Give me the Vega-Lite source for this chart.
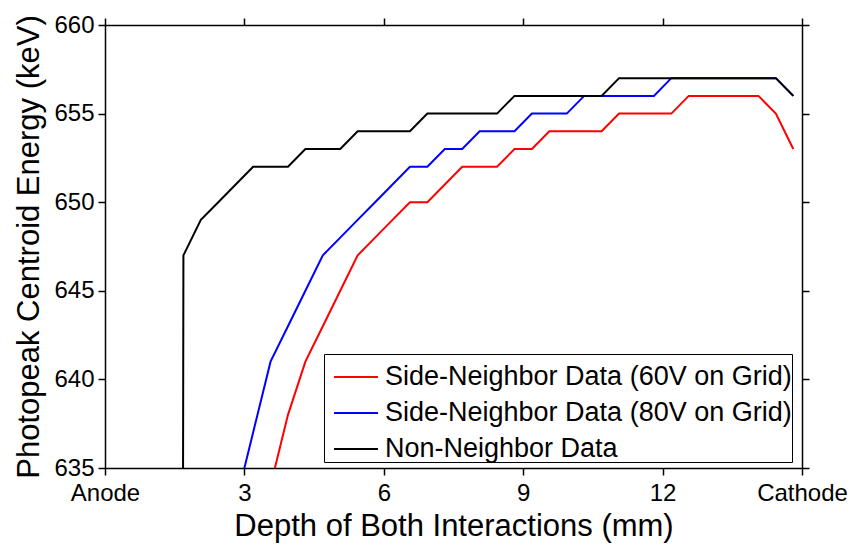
{
  "$schema": "https://vega.github.io/schema/vega-lite/v6.json",
  "width": 697,
  "height": 443,
  "autosize": {"type": "none"},
  "padding": {"left": 105, "top": 25, "right": 56, "bottom": 78},
  "background": "white",
  "datasets": {
    "pts": [
      {"s": "Side-Neighbor Data (60V on Grid)", "x": 3.5625, "y": 634},
      {"s": "Side-Neighbor Data (60V on Grid)", "x": 3.9375, "y": 638},
      {"s": "Side-Neighbor Data (60V on Grid)", "x": 4.3125, "y": 641},
      {"s": "Side-Neighbor Data (60V on Grid)", "x": 4.6875, "y": 643},
      {"s": "Side-Neighbor Data (60V on Grid)", "x": 5.0625, "y": 645},
      {"s": "Side-Neighbor Data (60V on Grid)", "x": 5.4375, "y": 647},
      {"s": "Side-Neighbor Data (60V on Grid)", "x": 5.8125, "y": 648},
      {"s": "Side-Neighbor Data (60V on Grid)", "x": 6.1875, "y": 649},
      {"s": "Side-Neighbor Data (60V on Grid)", "x": 6.5625, "y": 650},
      {"s": "Side-Neighbor Data (60V on Grid)", "x": 6.9375, "y": 650},
      {"s": "Side-Neighbor Data (60V on Grid)", "x": 7.3125, "y": 651},
      {"s": "Side-Neighbor Data (60V on Grid)", "x": 7.6875, "y": 652},
      {"s": "Side-Neighbor Data (60V on Grid)", "x": 8.0625, "y": 652},
      {"s": "Side-Neighbor Data (60V on Grid)", "x": 8.4375, "y": 652},
      {"s": "Side-Neighbor Data (60V on Grid)", "x": 8.8125, "y": 653},
      {"s": "Side-Neighbor Data (60V on Grid)", "x": 9.1875, "y": 653},
      {"s": "Side-Neighbor Data (60V on Grid)", "x": 9.5625, "y": 654},
      {"s": "Side-Neighbor Data (60V on Grid)", "x": 9.9375, "y": 654},
      {"s": "Side-Neighbor Data (60V on Grid)", "x": 10.3125, "y": 654},
      {"s": "Side-Neighbor Data (60V on Grid)", "x": 10.6875, "y": 654},
      {"s": "Side-Neighbor Data (60V on Grid)", "x": 11.0625, "y": 655},
      {"s": "Side-Neighbor Data (60V on Grid)", "x": 11.4375, "y": 655},
      {"s": "Side-Neighbor Data (60V on Grid)", "x": 11.8125, "y": 655},
      {"s": "Side-Neighbor Data (60V on Grid)", "x": 12.1875, "y": 655},
      {"s": "Side-Neighbor Data (60V on Grid)", "x": 12.5625, "y": 656},
      {"s": "Side-Neighbor Data (60V on Grid)", "x": 12.9375, "y": 656},
      {"s": "Side-Neighbor Data (60V on Grid)", "x": 13.3125, "y": 656},
      {"s": "Side-Neighbor Data (60V on Grid)", "x": 13.6875, "y": 656},
      {"s": "Side-Neighbor Data (60V on Grid)", "x": 14.0625, "y": 656},
      {"s": "Side-Neighbor Data (60V on Grid)", "x": 14.4375, "y": 655},
      {"s": "Side-Neighbor Data (60V on Grid)", "x": 14.8125, "y": 653},
      {"s": "Side-Neighbor Data (80V on Grid)", "x": 2.8125, "y": 633},
      {"s": "Side-Neighbor Data (80V on Grid)", "x": 3.1875, "y": 637},
      {"s": "Side-Neighbor Data (80V on Grid)", "x": 3.5625, "y": 641},
      {"s": "Side-Neighbor Data (80V on Grid)", "x": 3.9375, "y": 643},
      {"s": "Side-Neighbor Data (80V on Grid)", "x": 4.3125, "y": 645},
      {"s": "Side-Neighbor Data (80V on Grid)", "x": 4.6875, "y": 647},
      {"s": "Side-Neighbor Data (80V on Grid)", "x": 5.0625, "y": 648},
      {"s": "Side-Neighbor Data (80V on Grid)", "x": 5.4375, "y": 649},
      {"s": "Side-Neighbor Data (80V on Grid)", "x": 5.8125, "y": 650},
      {"s": "Side-Neighbor Data (80V on Grid)", "x": 6.1875, "y": 651},
      {"s": "Side-Neighbor Data (80V on Grid)", "x": 6.5625, "y": 652},
      {"s": "Side-Neighbor Data (80V on Grid)", "x": 6.9375, "y": 652},
      {"s": "Side-Neighbor Data (80V on Grid)", "x": 7.3125, "y": 653},
      {"s": "Side-Neighbor Data (80V on Grid)", "x": 7.6875, "y": 653},
      {"s": "Side-Neighbor Data (80V on Grid)", "x": 8.0625, "y": 654},
      {"s": "Side-Neighbor Data (80V on Grid)", "x": 8.4375, "y": 654},
      {"s": "Side-Neighbor Data (80V on Grid)", "x": 8.8125, "y": 654},
      {"s": "Side-Neighbor Data (80V on Grid)", "x": 9.1875, "y": 655},
      {"s": "Side-Neighbor Data (80V on Grid)", "x": 9.5625, "y": 655},
      {"s": "Side-Neighbor Data (80V on Grid)", "x": 9.9375, "y": 655},
      {"s": "Side-Neighbor Data (80V on Grid)", "x": 10.3125, "y": 656},
      {"s": "Side-Neighbor Data (80V on Grid)", "x": 10.6875, "y": 656},
      {"s": "Side-Neighbor Data (80V on Grid)", "x": 11.0625, "y": 656},
      {"s": "Side-Neighbor Data (80V on Grid)", "x": 11.4375, "y": 656},
      {"s": "Side-Neighbor Data (80V on Grid)", "x": 11.8125, "y": 656},
      {"s": "Side-Neighbor Data (80V on Grid)", "x": 12.1875, "y": 657},
      {"s": "Side-Neighbor Data (80V on Grid)", "x": 12.5625, "y": 657},
      {"s": "Side-Neighbor Data (80V on Grid)", "x": 12.9375, "y": 657},
      {"s": "Side-Neighbor Data (80V on Grid)", "x": 13.3125, "y": 657},
      {"s": "Side-Neighbor Data (80V on Grid)", "x": 13.6875, "y": 657},
      {"s": "Side-Neighbor Data (80V on Grid)", "x": 14.0625, "y": 657},
      {"s": "Side-Neighbor Data (80V on Grid)", "x": 14.4375, "y": 657},
      {"s": "Side-Neighbor Data (80V on Grid)", "x": 14.8125, "y": 656},
      {"s": "Non-Neighbor Data", "x": 1.68, "y": 635},
      {"s": "Non-Neighbor Data", "x": 1.6875, "y": 647},
      {"s": "Non-Neighbor Data", "x": 2.0625, "y": 649},
      {"s": "Non-Neighbor Data", "x": 2.4375, "y": 650},
      {"s": "Non-Neighbor Data", "x": 2.8125, "y": 651},
      {"s": "Non-Neighbor Data", "x": 3.1875, "y": 652},
      {"s": "Non-Neighbor Data", "x": 3.5625, "y": 652},
      {"s": "Non-Neighbor Data", "x": 3.9375, "y": 652},
      {"s": "Non-Neighbor Data", "x": 4.3125, "y": 653},
      {"s": "Non-Neighbor Data", "x": 4.6875, "y": 653},
      {"s": "Non-Neighbor Data", "x": 5.0625, "y": 653},
      {"s": "Non-Neighbor Data", "x": 5.4375, "y": 654},
      {"s": "Non-Neighbor Data", "x": 5.8125, "y": 654},
      {"s": "Non-Neighbor Data", "x": 6.1875, "y": 654},
      {"s": "Non-Neighbor Data", "x": 6.5625, "y": 654},
      {"s": "Non-Neighbor Data", "x": 6.9375, "y": 655},
      {"s": "Non-Neighbor Data", "x": 7.3125, "y": 655},
      {"s": "Non-Neighbor Data", "x": 7.6875, "y": 655},
      {"s": "Non-Neighbor Data", "x": 8.0625, "y": 655},
      {"s": "Non-Neighbor Data", "x": 8.4375, "y": 655},
      {"s": "Non-Neighbor Data", "x": 8.8125, "y": 656},
      {"s": "Non-Neighbor Data", "x": 9.1875, "y": 656},
      {"s": "Non-Neighbor Data", "x": 9.5625, "y": 656},
      {"s": "Non-Neighbor Data", "x": 9.9375, "y": 656},
      {"s": "Non-Neighbor Data", "x": 10.3125, "y": 656},
      {"s": "Non-Neighbor Data", "x": 10.6875, "y": 656},
      {"s": "Non-Neighbor Data", "x": 11.0625, "y": 657},
      {"s": "Non-Neighbor Data", "x": 11.4375, "y": 657},
      {"s": "Non-Neighbor Data", "x": 11.8125, "y": 657},
      {"s": "Non-Neighbor Data", "x": 12.1875, "y": 657},
      {"s": "Non-Neighbor Data", "x": 12.5625, "y": 657},
      {"s": "Non-Neighbor Data", "x": 12.9375, "y": 657},
      {"s": "Non-Neighbor Data", "x": 13.3125, "y": 657},
      {"s": "Non-Neighbor Data", "x": 13.6875, "y": 657},
      {"s": "Non-Neighbor Data", "x": 14.0625, "y": 657},
      {"s": "Non-Neighbor Data", "x": 14.4375, "y": 657},
      {"s": "Non-Neighbor Data", "x": 14.8125, "y": 656}
    ]
  },
  "data": {"name": "pts"},
  "layer": [
    {
      "transform": [{"filter": "datum.s != 'Non-Neighbor Data'"}],
      "mark": {"type": "line", "strokeWidth": 2, "clip": true},
      "encoding": {
        "x": {
          "field": "x", "type": "quantitative",
          "scale": {"domain": [0, 15], "nice": false, "zero": false},
          "axis": {
            "orient": "bottom",
            "values": [0, 3, 6, 9, 12, 15],
            "labelExpr": "datum.value == 0 ? 'Anode' : datum.value == 15 ? 'Cathode' : datum.label",
            "labelFlush": false,
            "labelOverlap": false,
            "labelPadding": 6,
            "title": "Depth of Both Interactions (mm)",
            "titleY": 67,
            "titleBaseline": "alphabetic"
          }
        },
        "y": {
          "field": "y", "type": "quantitative",
          "scale": {"domain": [635, 660], "nice": false, "zero": false},
          "axis": {
            "orient": "left",
            "values": [635, 640, 645, 650, 655, 660],
            "labelFlush": false,
            "labelOverlap": false,
            "labelPadding": 4,
            "title": "Photopeak Centroid Energy (keV)",
            "titleX": -67,
            "titleBaseline": "alphabetic"
          }
        },
        "color": {
          "field": "s", "type": "nominal",
          "scale": {
            "domain": ["Side-Neighbor Data (60V on Grid)", "Side-Neighbor Data (80V on Grid)", "Non-Neighbor Data"],
            "range": ["#ff0000", "#0000ff", "#000000"]
          },
          "legend": {
            "orient": "none",
            "legendX": 219,
            "legendY": 329,
            "title": null,
            "symbolType": "stroke",
            "symbolSize": 1936,
            "symbolStrokeWidth": 2,
            "symbolOffset": 9,
            "labelFontSize": 27,
            "labelOffset": 6,
            "labelColor": "black",
            "labelLimit": 600,
            "rowPadding": -5,
            "padding": 0,
            "strokeColor": "black",
            "fillColor": "white"
          }
        }
      }
    },
    {
      "transform": [{"filter": "datum.s == 'Non-Neighbor Data'"}],
      "mark": {"type": "line", "strokeWidth": 2, "clip": true},
      "encoding": {
        "x": {
          "field": "x", "type": "quantitative",
          "axis": {"orient": "top", "values": [0, 3, 6, 9, 12, 15], "labels": false, "title": null}
        },
        "y": {
          "field": "y", "type": "quantitative",
          "axis": {"orient": "right", "values": [635, 640, 645, 650, 655, 660], "labels": false, "title": null}
        },
        "color": {"field": "s", "type": "nominal"}
      }
    }
  ],
  "config": {
    "font": "Liberation Sans",
    "view": {"stroke": null},
    "axis": {
      "grid": false,
      "domainColor": "black",
      "domainWidth": 1.5,
      "tickColor": "black",
      "tickWidth": 1.5,
      "tickSize": 7,
      "labelColor": "black",
      "labelFont": "Liberation Sans",
      "labelFontSize": 24,
      "titleFont": "Liberation Sans",
      "titleFontSize": 31,
      "titleFontWeight": "normal",
      "titleColor": "black"
    },
    "legend": {"labelFont": "Liberation Sans"}
  }
}
